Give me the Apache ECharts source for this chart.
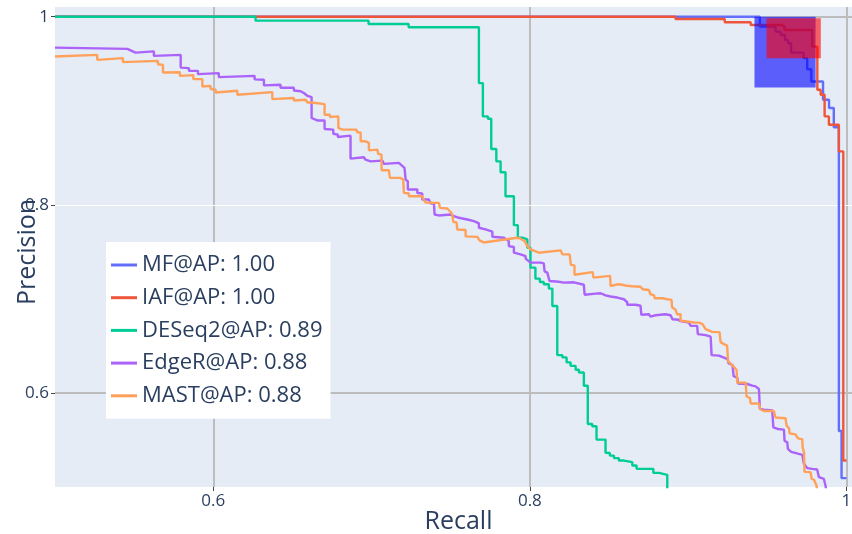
<!DOCTYPE html>
<html>
<head>
<meta charset="utf-8">
<script src="https://cdn.jsdelivr.net/npm/echarts@6/dist/echarts.min.js"></script>
<style>
html,body{margin:0;padding:0;background:#fff;}
#chart{width:852px;height:534px;}
</style>
</head>
<body>
<div id="chart"></div>
<script>
// ---- data (recall, precision) ----
const seriesNames = ['MF@AP: 1.00', 'IAF@AP: 1.00', 'DESeq2@AP: 0.89', 'EdgeR@AP: 0.88', 'MAST@AP: 0.88'];
const xTicks = [0.6, 0.8, 1];
const yTicks = [0.6, 0.8, 1];

// step curves (horizontal then drop)
const mfPoints = [[0.5,1],[0.9453,0.9894],[0.9552,0.9841],[0.9584,0.9806],[0.9612,0.9753],[0.9631,0.9718],[0.965,0.9618],[0.9729,0.9559],[0.9752,0.9442],[0.9778,0.9311],[0.9852,0.9117],[0.989,0.9029],[0.992,0.8825],[0.9952,0.5596],[0.9969,0.5094],[1.0,0.5094]];
const iafPoints = [[0.5,1],[0.892,0.9976],[0.9231,0.9941],[0.9395,0.9912],[0.9588,0.9894],[0.9609,0.9859],[0.9784,0.9682],[0.9816,0.9223],[0.9837,0.917],[0.9862,0.894],[0.9889,0.8851],[0.9952,0.8568],[0.998,0.5281],[1.0,0.5281]];
const deseq2Points = [[0.5,1],[0.6267,0.9958],[0.6981,0.9923],[0.7234,0.9888],[0.7678,0.9294],[0.7703,0.894],[0.7735,0.8915],[0.7756,0.8594],[0.7788,0.8462],[0.7815,0.8346],[0.7846,0.8091],[0.7899,0.7784],[0.7924,0.765],[0.7952,0.7632],[0.7984,0.7544],[0.8004,0.7332],[0.8035,0.7215],[0.8063,0.7179],[0.8088,0.7155],[0.812,0.7109],[0.8142,0.6925],[0.8173,0.6402],[0.8205,0.6378],[0.8232,0.6325],[0.8257,0.6288],[0.8289,0.6246],[0.831,0.6218],[0.8341,0.6076],[0.8366,0.567],[0.8394,0.5646],[0.8421,0.5504],[0.8478,0.5363],[0.8505,0.5334],[0.8531,0.5307],[0.8562,0.5281],[0.8594,0.5264],[0.8647,0.5228],[0.8674,0.5193],[0.878,0.515],[0.8815,0.5129],[0.8868,0.48]];

// polyline curves (vertices)
const edgerPoints = [[0.5,0.9671],[0.5457,0.9658],[0.5509,0.9618],[0.5625,0.9631],[0.5625,0.9583],[0.5794,0.9594],[0.5794,0.9459],[0.5846,0.9453],[0.5846,0.9424],[0.5903,0.9424],[0.5903,0.9389],[0.6035,0.94],[0.6035,0.9357],[0.6261,0.9371],[0.6261,0.9334],[0.632,0.9329],[0.632,0.927],[0.6425,0.9276],[0.6425,0.9244],[0.6509,0.9244],[0.6509,0.9215],[0.6552,0.9207],[0.6572,0.9188],[0.6594,0.9159],[0.6621,0.9145],[0.6621,0.8923],[0.6657,0.8897],[0.6703,0.8897],[0.6703,0.8806],[0.6758,0.8799],[0.6758,0.8756],[0.6787,0.8746],[0.6787,0.8721],[0.6867,0.8735],[0.6867,0.8491],[0.6951,0.8505],[0.6962,0.848],[0.6994,0.8462],[0.7068,0.847],[0.7078,0.8435],[0.7172,0.8446],[0.7208,0.8392],[0.7215,0.8268],[0.7229,0.825],[0.7229,0.8162],[0.7289,0.8162],[0.7289,0.8125],[0.732,0.812],[0.732,0.8056],[0.7362,0.8056],[0.7373,0.8014],[0.7394,0.8014],[0.7398,0.7897],[0.7425,0.7887],[0.7499,0.7897],[0.752,0.7879],[0.7552,0.7862],[0.7605,0.7844],[0.7646,0.7826],[0.7678,0.7802],[0.7678,0.7756],[0.772,0.7738],[0.7763,0.7714],[0.7763,0.7661],[0.7836,0.765],[0.7867,0.7614],[0.7867,0.7561],[0.7899,0.7551],[0.7899,0.7491],[0.7941,0.7473],[0.7973,0.7455],[0.7973,0.7428],[0.8004,0.7385],[0.8068,0.7385],[0.8088,0.7378],[0.8093,0.7293],[0.811,0.7279],[0.8124,0.719],[0.8183,0.7182],[0.8215,0.7173],[0.8278,0.7176],[0.8289,0.7155],[0.8341,0.715],[0.8346,0.7044],[0.8415,0.7056],[0.8447,0.706],[0.8478,0.7038],[0.851,0.7025],[0.8552,0.7014],[0.8594,0.6996],[0.8615,0.6964],[0.8615,0.6938],[0.8668,0.6938],[0.8699,0.6927],[0.8704,0.6832],[0.8752,0.6837],[0.8762,0.6812],[0.8794,0.6826],[0.8857,0.6837],[0.8889,0.6826],[0.8901,0.6784],[0.8939,0.6778],[0.8952,0.6763],[0.9004,0.6749],[0.9015,0.6715],[0.9057,0.6713],[0.9061,0.6625],[0.911,0.6614],[0.9142,0.6598],[0.9148,0.6402],[0.9194,0.6397],[0.9222,0.6378],[0.9249,0.636],[0.9255,0.6317],[0.928,0.6296],[0.9287,0.6179],[0.931,0.6164],[0.9315,0.61],[0.9373,0.6095],[0.9405,0.6077],[0.9426,0.607],[0.9447,0.6042],[0.9453,0.583],[0.9478,0.5822],[0.9531,0.5814],[0.9538,0.5635],[0.9565,0.5617],[0.9605,0.561],[0.9609,0.549],[0.9626,0.5476],[0.963,0.5405],[0.9651,0.5374],[0.9699,0.5352],[0.9721,0.5342],[0.9731,0.5246],[0.9752,0.5201],[0.9784,0.5193],[0.9815,0.5186],[0.9826,0.5105],[0.9857,0.5087],[0.9868,0.5013],[0.9874,0.4928]];
const mastPoints = [[0.5,0.9576],[0.5267,0.9594],[0.5267,0.9541],[0.5429,0.9559],[0.5429,0.9517],[0.565,0.953],[0.565,0.9495],[0.5682,0.9488],[0.5682,0.9406],[0.5789,0.941],[0.5789,0.9371],[0.5874,0.9379],[0.5874,0.9336],[0.5931,0.9336],[0.5931,0.9258],[0.5983,0.9265],[0.5983,0.923],[0.6015,0.9223],[0.6015,0.9194],[0.6152,0.9212],[0.6152,0.917],[0.6373,0.9198],[0.6373,0.9124],[0.6509,0.9135],[0.6509,0.9109],[0.6583,0.9117],[0.6594,0.9088],[0.6621,0.9088],[0.6625,0.9071],[0.6703,0.9071],[0.6703,0.8958],[0.6737,0.8958],[0.6737,0.8933],[0.679,0.894],[0.679,0.8817],[0.6815,0.8799],[0.6905,0.8799],[0.6909,0.877],[0.6931,0.877],[0.6931,0.8675],[0.6962,0.8675],[0.6962,0.8658],[0.6983,0.8658],[0.6983,0.8579],[0.7036,0.8587],[0.7042,0.8541],[0.7063,0.8533],[0.7063,0.8367],[0.7109,0.8367],[0.7116,0.8286],[0.7183,0.8286],[0.72,0.8268],[0.7204,0.8127],[0.7236,0.812],[0.7236,0.8091],[0.732,0.8091],[0.733,0.8056],[0.7341,0.8025],[0.7394,0.8021],[0.7425,0.8021],[0.7432,0.7968],[0.7478,0.7961],[0.7499,0.7924],[0.751,0.7897],[0.7516,0.7818],[0.7537,0.7812],[0.7541,0.7738],[0.7594,0.7733],[0.7594,0.7664],[0.7668,0.7659],[0.7682,0.7622],[0.7708,0.76],[0.792,0.765],[0.7941,0.764],[0.7967,0.7614],[0.7984,0.7561],[0.8004,0.7526],[0.8004,0.7508],[0.8057,0.7491],[0.8194,0.7516],[0.8205,0.7473],[0.8251,0.7473],[0.8259,0.7362],[0.8282,0.7356],[0.8282,0.7256],[0.8396,0.7285],[0.8402,0.7226],[0.8507,0.7245],[0.851,0.7137],[0.8552,0.7155],[0.8584,0.715],[0.8615,0.7139],[0.8647,0.7134],[0.8699,0.7129],[0.8712,0.7102],[0.8752,0.7094],[0.8762,0.7049],[0.8785,0.7038],[0.8788,0.7007],[0.8838,0.7007],[0.8868,0.6996],[0.8895,0.6989],[0.8898,0.6911],[0.892,0.6885],[0.893,0.6837],[0.8952,0.6837],[0.8952,0.6768],[0.9004,0.6757],[0.9036,0.6749],[0.9068,0.6747],[0.9091,0.6731],[0.911,0.6678],[0.9152,0.6649],[0.9198,0.6646],[0.9205,0.654],[0.9226,0.6519],[0.9246,0.6503],[0.9252,0.6339],[0.9287,0.628],[0.9306,0.6243],[0.931,0.611],[0.9363,0.611],[0.9369,0.5962],[0.9391,0.5946],[0.9394,0.5888],[0.9447,0.5888],[0.9457,0.5824],[0.9478,0.5808],[0.9541,0.5808],[0.9552,0.5739],[0.9615,0.5731],[0.9622,0.5652],[0.9637,0.5625],[0.9641,0.557],[0.9678,0.5559],[0.9694,0.5517],[0.9721,0.5506],[0.9723,0.5426],[0.9732,0.5363],[0.9735,0.5161],[0.9773,0.5158],[0.978,0.5087],[0.9795,0.5077],[0.9811,0.5013],[0.9817,0.4928]];

// shaded boxes: [xFrom, xTo, yFrom, yTo]
const mfBox = [0.9419, 0.9805, 0.9247, 1.0];
const iafBox = [0.9495, 0.9838, 0.9559, 0.9983];

const colors = ['#636efa', '#EF553B', '#00cc96', '#ab63fa', '#FFA15A'];
const xRange = [0.5, 1.0035];
const yRange = [0.5, 1.0103];

const font = '"Open Sans", "Noto Sans", sans-serif';
const txt = '#2a3f5f';
const gridGray = '#bdbdbd';

const chart = echarts.init(document.getElementById('chart'), null, {renderer: 'canvas'});

function curve(name, data, color, step) {
  return {
    name: name, type: 'line', data: data, step: step || false,
    symbol: 'none', showSymbol: false, z: 3,
    lineStyle: {color: color, width: 2.4, opacity: 1},
    itemStyle: {color: color},
    emphasis: {disabled: true},
    animation: false
  };
}
function box(b, color, z) {
  return {
    type: 'line', data: [], z: z, silent: true, animation: false,
    markArea: {
      silent: true, z: z,
      itemStyle: {color: color, borderWidth: 0},
      label: {show: false},
      data: [[{xAxis: b[0], yAxis: b[3]}, {xAxis: b[1], yAxis: b[2]}]]
    }
  };
}

const gridLines = [];
xTicks.forEach(v => gridLines.push({xAxis: v, lineStyle: {color: gridGray, width: 2, type: 'solid'}}));
yTicks.forEach(v => gridLines.push({yAxis: v, lineStyle: v === 0.8 ? {color: '#ffffff', width: 1, type: 'solid'} : {color: gridGray, width: 2, type: 'solid'}}));

const option = {
  backgroundColor: '#ffffff',
  animation: false,
  grid: {left: 55, right: 0, top: 7, bottom: 47, containLabel: false, outerBoundsMode: 'none',
         show: true, backgroundColor: '#E5ECF6', borderWidth: 0},
  xAxis: {
    type: 'value', min: xRange[0], max: xRange[1],
    name: 'Recall', nameLocation: 'middle', nameGap: 22, nameMoveOverlap: false,
    nameTextStyle: {fontFamily: font, fontSize: 25, color: txt, verticalAlign: 'top', padding: [0, 0, 0, 10]},
    axisLine: {show: false},
    axisTick: {show: true, customValues: xTicks, length: 4, lineStyle: {color: '#444', width: 1}},
    axisLabel: {customValues: xTicks, fontFamily: font, fontSize: 17, color: txt, margin: 6,
      formatter: v => String(Math.round(v * 10) / 10)},
    splitLine: {show: false}
  },
  yAxis: {
    type: 'value', min: yRange[0], max: yRange[1],
    name: 'Precision', nameLocation: 'middle', nameGap: 15, nameRotate: 90, nameMoveOverlap: false,
    nameTextStyle: {fontFamily: font, fontSize: 25, color: txt, verticalAlign: 'bottom', padding: [0, 10, 0, 0]},
    axisLine: {show: false},
    axisTick: {show: true, customValues: yTicks, length: 4, lineStyle: {color: '#444', width: 1}},
    axisLabel: {customValues: yTicks, fontFamily: font, fontSize: 17, color: txt, margin: 6,
      formatter: v => String(Math.round(v * 10) / 10)},
    splitLine: {show: false}
  },
  legend: {
    show: true, orient: 'vertical', left: 106, top: 242, z: 20,
    backgroundColor: '#ffffff', padding: [12, 8, 12, 5],
    icon: 'rect', itemWidth: 26, itemHeight: 3, itemGap: 10.7,
    textStyle: {fontFamily: font, fontSize: 22, color: txt, lineHeight: 20},
    data: seriesNames
  },
  series: [
    {type: 'line', data: [], z: 1, silent: true, animation: false,
     markLine: {silent: true, z: 1, symbol: ['none', 'none'], label: {show: false}, animation: false, data: gridLines}},
    curve(seriesNames[0], mfPoints, colors[0], 'end'),
    curve(seriesNames[1], iafPoints, colors[1], 'end'),
    curve(seriesNames[2], deseq2Points, colors[2], 'end'),
    curve(seriesNames[3], edgerPoints, colors[3]),
    curve(seriesNames[4], mastPoints, colors[4]),
    box(mfBox, 'rgba(0,0,255,0.6)', 10),
    box(iafBox, 'rgba(255,0,0,0.6)', 11)
  ]
};
chart.setOption(option);
</script>
</body>
</html>
